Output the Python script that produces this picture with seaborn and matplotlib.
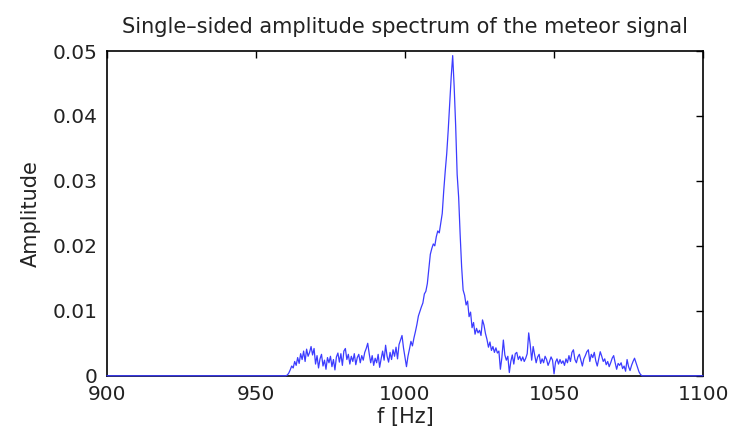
import numpy as np
import pandas as pd
import matplotlib
matplotlib.use("Agg")
import matplotlib.pyplot as plt
import seaborn as sns

# spectrum, amplitude in units of 1e-3, 0.5 Hz bins from 960 Hz
f_start = 960.0
f_step = 0.5
amp_milli = [
    # 960 - 969.5
    0, 0.1, 0.4, 0.9, 1.5, 1.2, 2.2, 1.6, 2.8, 1.9, 3.4, 2.5, 3.8, 2.2, 4.1, 3.0, 3.6, 4.5, 3.2, 4.2,
    # 970
    1.8, 3.1, 1.2, 2.6, 3.3, 1.5, 2.4, 1.0, 2.8, 2.0, 3.0, 1.4, 2.5, 0.9, 2.9, 3.5, 2.1, 3.4, 1.6, 3.8,
    # 980
    4.2, 2.5, 3.3, 1.8, 3.0, 2.2, 3.4, 1.7, 2.8, 3.3, 2.0, 3.1, 2.4, 3.6, 4.2, 5.0, 3.4, 2.0, 3.1, 1.6,
    # 990
    2.7, 2.0, 3.3, 1.3, 2.6, 3.8, 2.4, 4.7, 3.0, 2.1, 3.6, 2.5, 4.0, 3.0, 4.4, 2.6, 4.8, 5.5, 6.2, 4.3,
    # 1000
    2.9, 1.4, 3.0, 4.1, 5.3, 4.6, 5.8, 6.8, 7.9, 9.2, 9.9, 10.6, 11.2, 12.6, 13.0, 14.2, 16.5, 18.7, 19.6, 20.3,
    # 1010
    20.0, 21.4, 22.3, 22.0, 23.5, 25.0, 28.5, 31.5, 34.2, 37.8, 42.0, 46.0, 49.3, 44.5, 38.5, 31.0, 27.5, 21.8, 16.8, 13.2,
    # 1020
    12.4, 10.9, 11.5, 9.1, 9.8, 7.4, 8.2, 6.4, 7.3, 6.6, 7.0, 6.2, 8.6, 7.8, 6.5, 5.6, 4.4, 5.2, 3.9, 4.5,
    # 1030
    3.6, 4.3, 3.5, 3.8, 1.0, 2.8, 5.5, 3.2, 2.4, 3.0, 0.5, 2.2, 3.2, 1.8, 3.4, 3.6, 2.5, 3.0, 2.3, 2.9,
    # 1040
    2.2, 2.7, 3.4, 6.6, 4.8, 2.4, 4.5, 3.2, 2.0, 2.9, 3.3, 1.9, 2.6, 2.0, 3.0, 2.5, 1.6, 2.2, 2.9, 2.4,
    # 1050
    0.3, 2.1, 2.6, 1.8, 2.5, 1.9, 2.3, 1.6, 2.6, 2.0, 3.1, 2.2, 3.6, 4.0, 2.5, 2.0, 2.9, 3.3, 2.4, 1.5,
    # 1060
    2.6, 3.1, 3.7, 4.0, 2.2, 3.3, 2.8, 3.6, 2.3, 1.5, 2.6, 3.7, 3.0, 2.2, 2.6, 1.7, 2.2, 1.4, 2.0, 2.7,
    # 1070
    3.1, 2.0, 1.0, 1.9, 1.6, 2.0, 1.1, 1.5, 0.7, 2.5, 1.4, 0.8, 1.6, 2.2, 2.7, 2.0, 1.3, 0.6, 0.2, 0.0,
    # 1080
    0.0,
]
# flat zero ends of the spectrum
f_ends = [900.0, 1100.0]

x_ticks = [900, 950, 1000, 1050, 1100]
y_ticks = [0, 0.01, 0.02, 0.03, 0.04, 0.05]
y_tick_labels = ["0", "0.01", "0.02", "0.03", "0.04", "0.05"]

freq = f_start + f_step * np.arange(len(amp_milli))
df = pd.DataFrame({"f": np.concatenate([[f_ends[0]], freq, [f_ends[1]]]),
                   "amp": np.concatenate([[0.0], np.array(amp_milli) / 1000.0, [0.0]])})

sns.set_style("white")
plt.rcParams["font.family"] = ["DejaVu Sans"]
plt.rcParams["text.color"] = "#222222"
plt.rcParams["axes.labelcolor"] = "#222222"

fig = plt.figure(figsize=(7.37, 4.40), dpi=100)
ax = fig.add_axes([0.145, 0.146, 0.809, 0.738])

sns.lineplot(data=df, x="f", y="amp", ax=ax, color="#3c3cff", linewidth=0.9)
# let the zero baseline sit on top of the bottom axis line, as in the original
ax.lines[0].set_clip_on(False)
ax.lines[0].set_zorder(3)

ax.set_xlim(900, 1100)
ax.set_ylim(0, 0.05)
ax.set_xticks(x_ticks)
ax.set_xticklabels([str(t) for t in x_ticks])
ax.set_yticks(y_ticks)
ax.set_yticklabels(y_tick_labels)
ax.tick_params(direction="in", length=5, width=1, top=True, right=True,
               labelsize=14.5, colors="black", labelcolor="#222222", pad=7)
ax.tick_params(axis="x", pad=7)
for s in ax.spines.values():
    s.set_color("black")
    s.set_linewidth(1.2)

ax.set_title("Single\u2013sided amplitude spectrum of the meteor signal", fontsize=15, pad=13)
ax.set_xlabel("f [Hz]", fontsize=15, labelpad=2)
ax.set_ylabel("Amplitude", fontsize=15, labelpad=8)

fig.savefig("out.png", dpi=100)
